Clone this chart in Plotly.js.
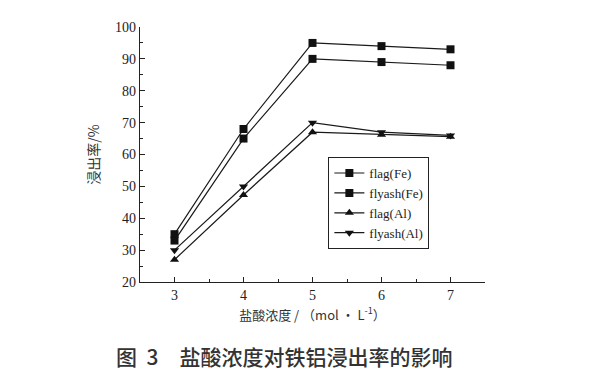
<!DOCTYPE html>
<html><head><meta charset="utf-8">
<script src="https://cdn.plot.ly/plotly-3.0.1.min.js"></script>
<style>body{margin:0;background:#fff}#c{width:595px;height:373px}</style>
</head><body><div id="c"></div>
<script>
const concentration = [3, 4, 5, 6, 7];
const flagFe = [35, 68, 95, 94, 93];
const flyashFe = [33, 65, 90, 89, 88];
const flagAl = [27, 47.3, 67, 66.2, 65.6];
const flyashAl = [30, 50, 70, 67, 66];
const seriesNames = ['flag(Fe)', 'flyash(Fe)', 'flag(Al)', 'flyash(Al)'];
const xTicks = [3, 4, 5, 6, 7];
const yTicks = [20, 30, 40, 50, 60, 70, 80, 90, 100];

const serif = 'Liberation Serif, Times New Roman, serif';
function tr(y, name, sym){
  return {x: concentration, y: y, name: name, type: 'scatter', mode: 'lines+markers',
    line: {color: '#1a1a1a', width: 1.2},
    marker: {symbol: sym, size: 8, color: '#111'}};
}
const data = [
  tr(flagFe, seriesNames[0], 'square'),
  tr(flyashFe, seriesNames[1], 'square'),
  tr(flagAl, seriesNames[2], 'triangle-up'),
  tr(flyashAl, seriesNames[3], 'triangle-down')
];
const layout = {
  width: 595, height: 373,
  margin: {l: 140, r: 110, t: 27, b: 91},
  paper_bgcolor: '#fff', plot_bgcolor: '#fff',
  showlegend: true,
  legend: {x: 0.546, y: 0.49, xanchor: 'left', yanchor: 'top',
    bordercolor: '#222', borderwidth: 1, bgcolor: '#fff',
    font: {family: serif, size: 13, color: '#222'}, tracegroupgap: 0, itemwidth: 30},
  xaxis: {range: [2.5, 7.5], tickvals: xTicks, ticks: 'inside', ticklen: 5,
    tickcolor: '#222', showline: true, linecolor: '#222', linewidth: 1.2,
    showgrid: false, zeroline: false,
    minor: {dtick: 0.5, ticks: 'inside', ticklen: 3, tickcolor: '#222'},
    tickfont: {family: serif, size: 14, color: '#222'},
    title: {text: '盐酸浓度 / （mol · L<sup>-1</sup>）', standoff: 8,
      font: {family: 'Noto Sans CJK SC, serif', size: 13, color: '#333'}}},
  yaxis: {range: [20, 100], tickvals: yTicks, ticks: 'inside', ticklen: 5,
    tickcolor: '#222', showline: true, linecolor: '#222', linewidth: 1.2,
    showgrid: false, zeroline: false,
    minor: {dtick: 5, ticks: 'inside', ticklen: 3, tickcolor: '#222'},
    tickfont: {family: serif, size: 14, color: '#222'},
    title: {text: '浸出率/%', standoff: 12,
      font: {family: 'Noto Sans CJK SC, serif', size: 14, color: '#333'}}},
  annotations: [{text: '图\u00a0\u00a03\u3000盐酸浓度对铁铝浸出率的影响', xref: 'paper', yref: 'paper',
    x: 0.416, y: -0.29, xanchor: 'center', yanchor: 'middle', showarrow: false,
    font: {family: 'Noto Sans CJK SC, sans-serif', size: 21, weight: 500, color: '#333'}}]
};
Plotly.newPlot('c', data, layout, {staticPlot: true});
</script></body></html>
